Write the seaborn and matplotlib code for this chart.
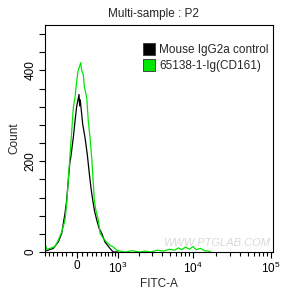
import numpy as np
import pandas as pd
import matplotlib
matplotlib.use("Agg")
import matplotlib.pyplot as plt
import seaborn as sns
from matplotlib.patches import Patch

# ------------------------------
# DATA
# ------------------------------
control_fitc = [-655, -485, -371, -297, -229, -195, -163, -129, -116, -65, -33, 0,
                25, 44, 57, 69, 77, 116, 161, 207, 245, 283, 319, 358, 408, 461,
                525, 606, 744, 845, 1000]
control_count = [3, 8, 22, 41, 85, 114, 158, 200, 207, 252, 288, 321,
                 335, 347, 322, 335, 325, 281, 252, 214, 175, 140, 114, 90, 70, 52,
                 41, 22, 8, 0, 0]

cd161_fitc = [-700, -650, -567, -445, -371, -297, -229, -195, -163, -129, -96, -65,
              -33, 0, 25, 77, 95, 127, 147, 171, 195, 227, 262, 297, 332, 352,
              391, 445, 484, 564, 651, 744, 845, 960, 1073, 1300, 1600, 2000,
              2400, 2800, 3500, 4200, 5000, 5800, 6500, 7200, 8000, 9000, 10000,
              11000, 12500, 14000, 16000, 17000]
cd161_count = [18, 6, 8, 12, 26, 44, 70, 107, 158, 214, 266, 318,
               340, 376, 398, 417, 400, 391, 365, 352, 340, 288, 252, 207, 150, 114,
               90, 70, 41, 30, 22, 15, 11, 4, 2, 0, 3, 0,
               2, 0, 4, 2, 6, 4, 9, 5, 11, 6, 12,
               5, 8, 3, 2, 0]

labels = ["Mouse IgG2a control", "65138-1-Ig(CD161)"]
colors = ["black", "#00e600"]

df = pd.concat([
    pd.DataFrame({"FITC-A": control_fitc, "Count": control_count, "sample": labels[0]}),
    pd.DataFrame({"FITC-A": cd161_fitc, "Count": cd161_count, "sample": labels[1]}),
])

# ------------------------------
# PLOT
# ------------------------------
sns.set_style("ticks")
plt.rcParams["font.family"] = ["Liberation Sans", "DejaVu Sans"]
plt.rcParams["mathtext.fontset"] = "custom"
plt.rcParams["mathtext.rm"] = "Liberation Sans"

W = 650.0  # biexponential-like width


def fwd(x):
    return np.arcsinh(np.asarray(x) / W)


def inv(t):
    return W * np.sinh(np.asarray(t))


fig = plt.figure(figsize=(2.83, 2.95), dpi=100)
ax = fig.add_axes([45 / 283, 1 - 252 / 295, 228 / 283, 227 / 295])

sns.lineplot(data=df, x="FITC-A", y="Count", hue="sample", palette=colors,
             sort=False, estimator=None, linewidth=0.9, legend=False, ax=ax)

ax.set_xscale("function", functions=(fwd, inv))
ax.set_xlim(-700, 106000)
ax.set_ylim(0, 500)

ax.set_xticks([0, 1e3, 1e4, 1e5])
ax.set_xticklabels(["0", "$10^3$", "$10^4$", "$10^5$"])
minor = ([-700, -600, -500, -400, -300, -200, -100,
          100, 200, 300, 400, 500, 600, 700, 800, 900] +
         [2e3, 3e3, 4e3, 5e3, 6e3, 7e3, 8e3, 9e3] +
         [2e4, 3e4, 4e4, 5e4, 6e4, 7e4, 8e4, 9e4])
ax.set_xticks(minor, minor=True)

ax.set_yticks([0, 200, 400])
ax.set_yticks([40, 80, 120, 160, 240, 280, 320, 360, 440, 480], minor=True)
for lab in ax.get_yticklabels():
    lab.set_rotation(90)
    lab.set_va("center")

ax.tick_params(axis="both", which="major", length=4, width=0.8, labelsize=8.5, pad=2,
               color="black", labelcolor="black")
ax.tick_params(axis="both", which="minor", length=3, width=0.8, color="black")
ax.tick_params(axis="y", which="minor", length=4)
for s in ax.spines.values():
    s.set_color("black")
    s.set_linewidth(0.8)

ax.set_xlabel("FITC-A", fontsize=8.5, labelpad=2)
ax.set_ylabel("Count", fontsize=8.5, labelpad=3)
fig.text(153 / 283, 1 - 14 / 295, "Multi-sample : P2", ha="center", va="center", fontsize=8.5)

handles = [Patch(facecolor=c, edgecolor="#333333", linewidth=0.6) for c in colors]
ax.legend(handles, labels, loc="upper left", bbox_to_anchor=(0.41, 0.94),
          frameon=False, fontsize=8.5, handlelength=1.0, handleheight=1.2,
          handletextpad=0.35, labelspacing=0.25, borderaxespad=0)

ax.text((163 - 45) / 228, (252 - 243) / 227, "WWW.PTGLAB.COM", transform=ax.transAxes,
        ha="left", va="center", fontsize=8, style="italic", color="#d9d9d9")

fig.savefig("out.png", dpi=100)
